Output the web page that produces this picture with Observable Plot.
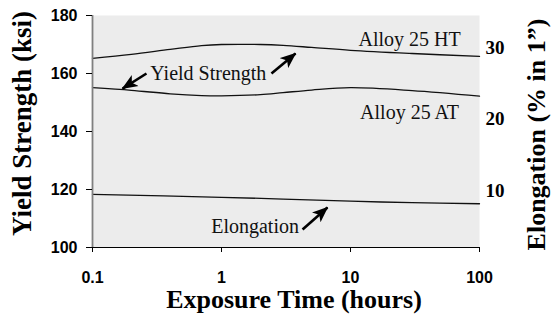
<!DOCTYPE html>
<html>
<head>
<meta charset="utf-8">
<script src="https://cdn.jsdelivr.net/npm/d3@7"></script>
<script src="https://cdn.jsdelivr.net/npm/@observablehq/plot@0.6"></script>
<style>
  html, body { margin: 0; padding: 0; background: #fff; }
  #chart svg { display: block; }
</style>
</head>
<body>
<div id="chart"></div>
<script>
// ---- Data ----
const hours = [0.1, 0.2, 0.4, 0.7, 1, 2, 3, 5, 10, 30, 100];
const alloyHT = [165.2, 166.6, 168.3, 169.6, 170, 170, 169.7, 169, 168, 166.9, 165.9];
const alloyAT = [155.1, 154.2, 153.0, 152.4, 152.3, 152.7, 153.4, 154.3, 155.1, 154.1, 152.2];
const elongHours = [0.1, 1, 3, 10, 30, 100];
const elongation = [9.45, 9.05, 8.8, 8.5, 8.3, 8.15];

const xTicks = [0.1, 1, 10, 100];
const yTicks = [100, 120, 140, 160, 180];
const elongTicks = [10, 20, 30];

const noteText = ["Alloy 25 HT", "Alloy 25 AT", "Yield Strength", "Elongation"];
const noteX = [28.7, 28.7, 0.79, 1.82];
const noteY = [171.6, 146.6, 159.8, 107.3];

const arrowX1 = [0.262, 2.44, 4.25];
const arrowY1 = [160.0, 160.0, 106.2];
const arrowX2 = [0.171, 3.75, 6.63];
const arrowY2 = [154.8, 166.9, 113.8];

// elongation (%) -> yield-strength axis units (secondary axis mapping)
const toKsi = e => 95 + 2.4655 * e;
const fromKsi = k => (k - 95) / 2.4655;

const serif = "'Liberation Serif', 'Times New Roman', serif";
const sans = "'Liberation Sans', Arial, sans-serif";

const series = [
  ...hours.map((h, i) => ({h, v: alloyHT[i], s: "HT"})),
  ...hours.map((h, i) => ({h, v: alloyAT[i], s: "AT"})),
  ...elongHours.map((h, i) => ({h, v: toKsi(elongation[i]), s: "EL"}))
];
const notes = noteText.map((t, i) => ({t, x: noteX[i], y: noteY[i]}));
const arrows = arrowX1.map((x1, i) => ({x1, y1: arrowY1[i], x2: arrowX2[i], y2: arrowY2[i]}));

function filledArrow(color, context) {
  const ns = "http://www.w3.org/2000/svg";
  const m = document.createElementNS(ns, "marker");
  m.setAttribute("viewBox", "-15 -7 16 14");
  m.setAttribute("markerWidth", 16);
  m.setAttribute("markerHeight", 14);
  m.setAttribute("markerUnits", "userSpaceOnUse");
  m.setAttribute("orient", "auto");
  m.setAttribute("refX", 0);
  m.setAttribute("refY", 0);
  const p = document.createElementNS(ns, "path");
  p.setAttribute("d", "M-15,-6.5L1,0L-15,6.5L-11,0Z");
  p.setAttribute("fill", "black");
  p.setAttribute("stroke", "none");
  m.appendChild(p);
  return m;
}

const chart = Plot.plot({
  width: 553,
  height: 327,
  marginLeft: 92,
  marginRight: 74,
  marginTop: 15,
  marginBottom: 80,
  style: {background: "#fff", overflow: "visible"},
  x: {type: "log", domain: [0.1, 100]},
  y: {domain: [100, 180]},
  marks: [
    Plot.frame({fill: "#ececec", stroke: null}),
    Plot.line(series, {x: "h", y: "v", z: "s", curve: "catmull-rom", stroke: "#111", strokeWidth: 1.3}),
    Plot.ruleY([100], {stroke: "#000", strokeWidth: 1.2}),
    Plot.ruleX([0.1], {stroke: "#808080", strokeWidth: 1.8}),
    Plot.axisX({ticks: xTicks, tickFormat: d => String(d), tickSize: 5, tickPadding: 19,
      fontFamily: sans, fontWeight: "bold", fontSize: 16, label: null, stroke: "#000", fill: "#000"}),
    Plot.axisY({ticks: yTicks, tickSize: 6, tickPadding: 9, fontFamily: sans, fontWeight: "bold",
      fontSize: 16, label: null, stroke: "#000", fill: "#000"}),
    Plot.axisY({anchor: "right", ticks: elongTicks.map(toKsi), tickFormat: d => String(Math.round(fromKsi(d))),
      tickSize: 0, tickPadding: 6, fontFamily: serif, fontWeight: "bold", fontSize: 19, label: null, fill: "#000"}),
    Plot.text(notes, {x: "x", y: "y", text: "t", fontFamily: serif, fontSize: 20, fill: "#111"}),
    Plot.link(arrows, {x1: "x1", y1: "y1", x2: "x2", y2: "y2", stroke: "#000", strokeWidth: 2.6, markerEnd: filledArrow}),
    Plot.text(["Yield Strength (ksi)"], {frameAnchor: "left", textAnchor: "middle", lineAnchor: "middle",
      rotate: -90, dx: -70, dy: -8, fontFamily: serif, fontWeight: "bold", fontSize: 27, fill: "#000"}),
    Plot.text(["Elongation (% in 1\u201D)"], {frameAnchor: "right", textAnchor: "middle", lineAnchor: "middle",
      rotate: -90, dx: 57, dy: 3, fontFamily: serif, fontWeight: "bold", fontSize: 26, fill: "#000"}),
    Plot.text(["Exposure Time (hours)"], {frameAnchor: "bottom", textAnchor: "middle", lineAnchor: "middle",
      dx: 8, dy: 52, fontFamily: serif, fontWeight: "bold", fontSize: 26, fill: "#000"})
  ]
});
document.getElementById("chart").appendChild(chart);
</script>
</body>
</html>
